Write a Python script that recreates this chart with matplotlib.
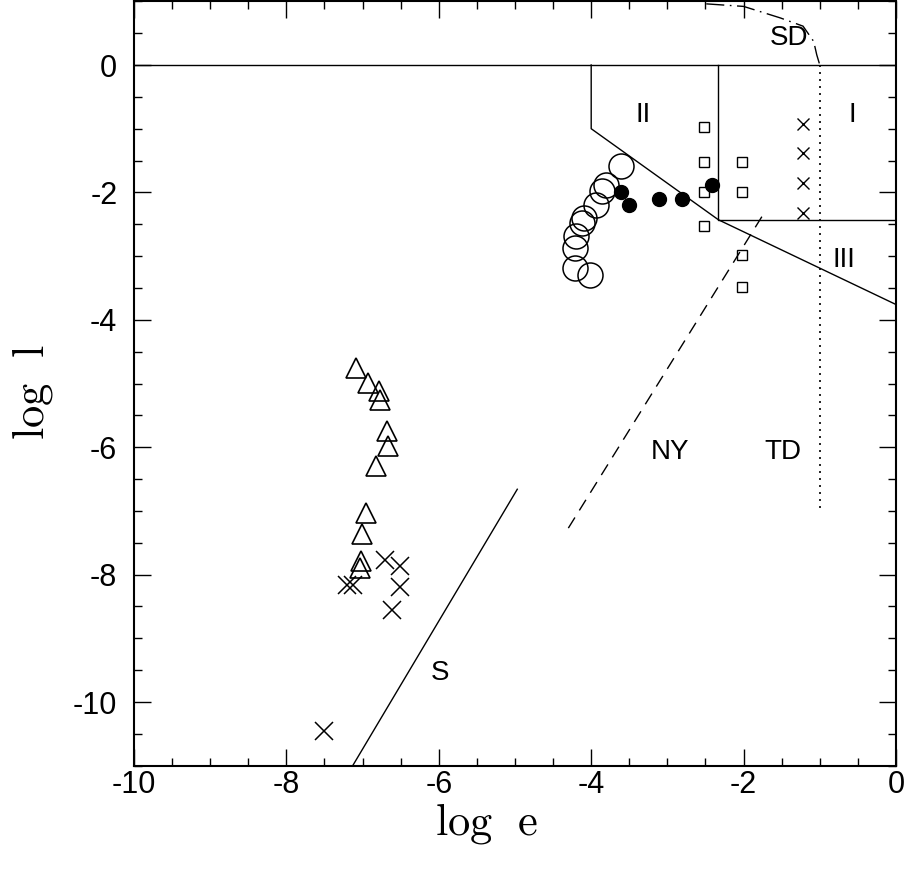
import numpy as np
import matplotlib.pyplot as plt
from matplotlib.ticker import MultipleLocator

plt.rcParams["font.family"] = ["Liberation Sans", "DejaVu Sans"]
plt.rcParams["mathtext.fontset"] = "cm"
plt.rcParams["axes.unicode_minus"] = False

# ---- data ----
# open circles (large)
oc_x = [-3.61, -3.81, -3.86, -3.94, -4.10, -4.12, -4.20, -4.21, -4.21, -4.02]
oc_y = [-1.59, -1.88, -1.98, -2.19, -2.40, -2.48, -2.69, -2.88, -3.19, -3.29]

# filled circles
fc_x = [-3.61, -3.51, -3.11, -2.81, -2.41]
fc_y = [-1.99, -2.19, -2.10, -2.10, -1.89]

# open squares
sq_x = [-2.52, -2.52, -2.52, -2.52, -2.02, -2.02, -2.02, -2.02]
sq_y = [-0.98, -1.52, -1.99, -2.52, -1.52, -1.99, -2.99, -3.49]

# small crosses
sx_x = [-1.22, -1.22, -1.22, -1.22]
sx_y = [-0.92, -1.38, -1.86, -2.33]

# triangles
tr_x = [-7.09, -6.93, -6.79, -6.77, -6.68, -6.66, -6.82, -6.96, -7.01, -7.02, -7.03]
tr_y = [-4.76, -4.99, -5.12, -5.26, -5.75, -5.98, -6.29, -7.04, -7.37, -7.79, -7.90]

# large crosses
bx_x = [-6.71, -6.51, -7.21, -7.12, -6.51, -6.61, -7.51]
bx_y = [-7.77, -7.87, -8.16, -8.17, -8.19, -8.56, -10.46]

# boundary lines
top_x = [-10, 0]
top_y = [0, 0]
reg_x = [-4.0, -4.0, -2.33, 0.0]
reg_y = [0.0, -1.0, -2.43, -3.76]
box_x = [-2.33, -2.33, 0.0]
box_y = [0.0, -2.43, -2.43]
td_x = [-1.0, -1.0]
td_y = [0.0, -7.0]
sd_x = [-2.49, -2.0, -1.52, -1.22, -1.08, -1.04, -1.0]
sd_y = [0.96, 0.92, 0.74, 0.61, 0.37, 0.16, 0.0]
ny_x = [-4.30, -1.76]
ny_y = [-7.27, -2.38]
s_x = [-7.13, -4.97]
s_y = [-11.0, -6.66]

labels = ["SD", "II", "I", "III", "NY", "TD", "S"]
lab_x = [-1.41, -3.32, -0.57, -0.68, -2.97, -1.48, -5.99]
lab_y = [0.42, -0.78, -0.78, -3.06, -6.07, -6.07, -9.55]

# ---- figure ----
fig = plt.figure(figsize=(9.09, 8.73), dpi=100)
ax = fig.add_axes([0.1474, 0.1229, 0.8383, 0.8756])

lw = 1.0
ax.plot(top_x, top_y, color="black", lw=lw)
ax.plot(reg_x, reg_y, color="black", lw=lw)
ax.plot(box_x, box_y, color="black", lw=lw)
ax.plot(td_x, td_y, color="black", lw=1.2, dashes=(1.2, 3.0))
ax.plot(sd_x, sd_y, color="black", lw=lw, dashes=(13, 4, 1.2, 4))
ax.plot(ny_x, ny_y, color="black", lw=lw, dashes=(9, 6))
ax.plot(s_x, s_y, color="black", lw=lw)

ax.plot(oc_x, oc_y, "o", ms=18, mfc="none", mec="black", mew=1.1, ls="none")
ax.plot(fc_x, fc_y, "o", ms=10, color="black", ls="none")
ax.plot(sq_x, sq_y, "s", ms=6.5, mfc="none", mec="black", mew=1.0, ls="none")
ax.plot(sx_x, sx_y, "x", ms=8, color="black", mew=1.0, ls="none")
ax.plot(tr_x, tr_y, "^", ms=15, mfc="none", mec="black", mew=1.2, ls="none")
ax.plot(bx_x, bx_y, "x", ms=13, color="black", mew=1.1, ls="none")

for t, x, y in zip(labels, lab_x, lab_y):
    ax.text(x, y, t, fontsize=20, ha="center", va="center")

ax.set_xlim(-10, 0)
ax.set_ylim(-11, 1)
ax.xaxis.set_major_locator(MultipleLocator(2))
ax.xaxis.set_minor_locator(MultipleLocator(0.5))
ax.yaxis.set_major_locator(MultipleLocator(2))
ax.yaxis.set_minor_locator(MultipleLocator(0.5))
ax.tick_params(which="both", direction="in", top=True, right=True, width=1.0, labelsize=22)
ax.tick_params(which="major", length=12)
ax.tick_params(which="minor", length=6)
ax.tick_params(axis="x", pad=3)
ax.tick_params(axis="y", pad=12)
for sp in ax.spines.values():
    sp.set_linewidth(1.5)

ax.set_xlabel(r"$\mathrm{log\ \ e}$", fontsize=32)
ax.set_ylabel(r"$\mathrm{log\ \ l}$", fontsize=32)
ax.xaxis.set_label_coords(0.463, -0.046)
ax.yaxis.set_label_coords(-0.103, 0.489)

fig.savefig("out.png", dpi=100)
